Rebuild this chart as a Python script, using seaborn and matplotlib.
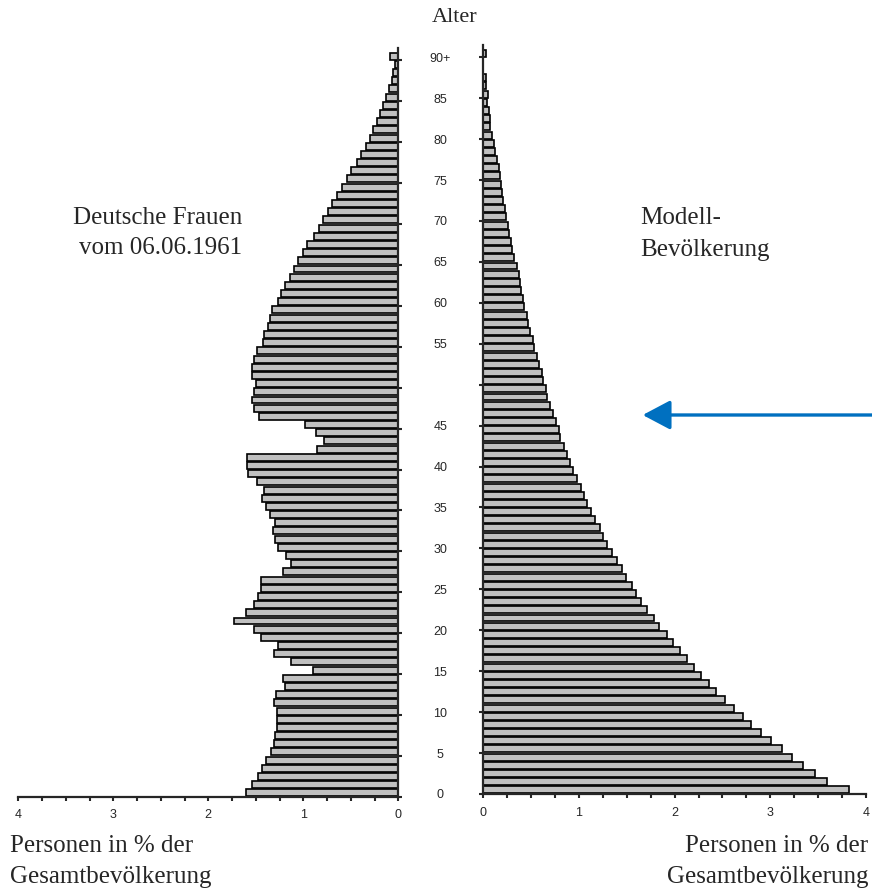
import matplotlib
matplotlib.use('Agg')
import matplotlib.pyplot as plt
from matplotlib import font_manager
from matplotlib.ticker import MultipleLocator
import seaborn as sns

# Altersgruppen 0 .. 90+
ages = list(range(91))
tick_ages = list(range(0, 91, 5))
tick_labels = ['0', '5', '10', '15', '20', '25', '30', '35', '40', '45', '',
               '55', '60', '65', '70', '75', '80', '85', '90+']
x_ticks = [0, 1, 2, 3, 4]

# Deutsche Frauen, Volkszaehlung 06.06.1961 (Anteil in %), Alter 0 .. 90+
frauen_1961 = [1.60, 1.54, 1.48, 1.44, 1.39, 1.34, 1.31, 1.30, 1.28, 1.28,
               1.28, 1.31, 1.29, 1.19, 1.21, 0.90, 1.13, 1.31, 1.27, 1.45,
               1.52, 1.73, 1.60, 1.52, 1.48, 1.45, 1.45, 1.21, 1.13, 1.18,
               1.27, 1.30, 1.32, 1.30, 1.35, 1.39, 1.43, 1.41, 1.49, 1.58,
               1.59, 1.59, 0.86, 0.78, 0.87, 0.98, 1.47, 1.52, 1.54, 1.52,
               1.50, 1.54, 1.54, 1.52, 1.49, 1.42, 1.41, 1.37, 1.35, 1.33,
               1.27, 1.24, 1.19, 1.14, 1.10, 1.06, 1.00, 0.96, 0.89, 0.83,
               0.79, 0.74, 0.70, 0.65, 0.59, 0.54, 0.50, 0.43, 0.39, 0.34,
               0.30, 0.27, 0.22, 0.19, 0.16, 0.13, 0.10, 0.07, 0.06, 0.03,
               0.09]

# Modell-Bevoelkerung (Anteil in %), Alter 0 .. 90+
modell = [3.82, 3.59, 3.47, 3.34, 3.23, 3.12, 3.01, 2.90, 2.80, 2.71,
          2.62, 2.53, 2.43, 2.36, 2.28, 2.20, 2.13, 2.06, 1.98, 1.92,
          1.84, 1.78, 1.71, 1.65, 1.595, 1.55, 1.49, 1.445, 1.40, 1.34,
          1.29, 1.25, 1.215, 1.17, 1.125, 1.08, 1.05, 1.02, 0.975, 0.94,
          0.91, 0.88, 0.84, 0.80, 0.79, 0.76, 0.73, 0.70, 0.67, 0.655,
          0.62, 0.61, 0.58, 0.56, 0.53, 0.515, 0.49, 0.47, 0.46, 0.425,
          0.41, 0.39, 0.38, 0.37, 0.35, 0.32, 0.30, 0.285, 0.27, 0.26,
          0.24, 0.23, 0.21, 0.20, 0.18, 0.17, 0.16, 0.14, 0.125, 0.11,
          0.09, 0.07, 0.07, 0.06, 0.04, 0.045, 0.03, 0.03, 0.0, 0.0,
          0.03]

sns.set_style('ticks')
installed = {f.name for f in font_manager.fontManager.ttflist}
narrow = 'Liberation Sans Narrow' if 'Liberation Sans Narrow' in installed else 'Liberation Sans'
plt.rcParams['font.family'] = ['Liberation Sans', 'DejaVu Sans']
serif = ['Liberation Serif', 'DejaVu Serif']

W, H = 872, 891
fig = plt.figure(figsize=(W / 100, H / 100), dpi=100)
ax1 = fig.add_axes([18.3 / W, 1 - 797 / H, 380 / W, 749 / H])
ax2 = fig.add_axes([483.3 / W, 1 - 794 / H, 382.7 / W, 749 / H])

bar_kw = dict(orient='y', native_scale=True, color='#c0c0c0', saturation=1,
              edgecolor='black', linewidth=1.2, width=0.85, errorbar=None)
sns.barplot(x=frauen_1961, y=ages, ax=ax1, **bar_kw)
sns.barplot(x=modell, y=ages, ax=ax2, **bar_kw)

for ax in (ax1, ax2):
    ax.set_ylim(-0.5, 91)
    ax.set_yticks([a - 0.5 for a in tick_ages])
    ax.set_xticks(x_ticks)
    ax.xaxis.set_minor_locator(MultipleLocator(0.25))
    ax.tick_params(axis='x', which='both', direction='out', length=3, width=1.5, pad=6)
    ax.tick_params(axis='y', direction='out', length=3, width=1.5)
    ax.set_xlabel('')
    ax.set_ylabel('')
    ax.spines['top'].set_visible(False)
    for s in ax.spines.values():
        s.set_linewidth(1.6)

# links: gespiegelte Achse
ax1.set_xlim(4, 0)
ax1.spines['left'].set_visible(False)
ax1.yaxis.tick_right()
ax1.set_yticklabels([])
ax1.set_xticklabels([str(v) for v in x_ticks], family=[narrow, 'DejaVu Sans'], fontsize=9)

# rechts
ax2.set_xlim(0, 4)
ax2.spines['right'].set_visible(False)
ax2.set_xticklabels([str(v) for v in x_ticks], fontsize=9)
ax2.set_yticklabels(tick_labels, fontsize=9, ha='center')
ax2.tick_params(axis='y', pad=28)

def ftext(x, y, s, **kw):
    fig.text(x / W, 1 - y / H, s, family=serif, va='center', **kw)

ftext(455, 17, 'Alter', fontsize=16, ha='center')
ftext(242, 218, 'Deutsche Frauen', fontsize=18, ha='right')
ftext(242, 248, 'vom 06.06.1961', fontsize=18, ha='right')
ftext(640, 218, 'Modell-', fontsize=18, ha='left')
ftext(640, 250, 'Bevölkerung', fontsize=18, ha='left')
ftext(10, 846, 'Personen in % der', fontsize=18, ha='left')
ftext(10, 877, 'Gesamtbevölkerung', fontsize=18, ha='left')
ftext(868, 846, 'Personen in % der', fontsize=18, ha='right')
ftext(868, 877, 'Gesamtbevölkerung', fontsize=18, ha='right')

fig.add_artist(plt.Annotation('', xy=(642.7 / W, 1 - 415 / H), xytext=(1.0, 1 - 415 / H),
                              xycoords='figure fraction', textcoords='figure fraction',
                              arrowprops=dict(arrowstyle='-|>,head_length=1.7,head_width=0.9',
                                              color='#0070C0', lw=2.4, shrinkA=0, shrinkB=0)))

fig.savefig('out.png', dpi=100)
